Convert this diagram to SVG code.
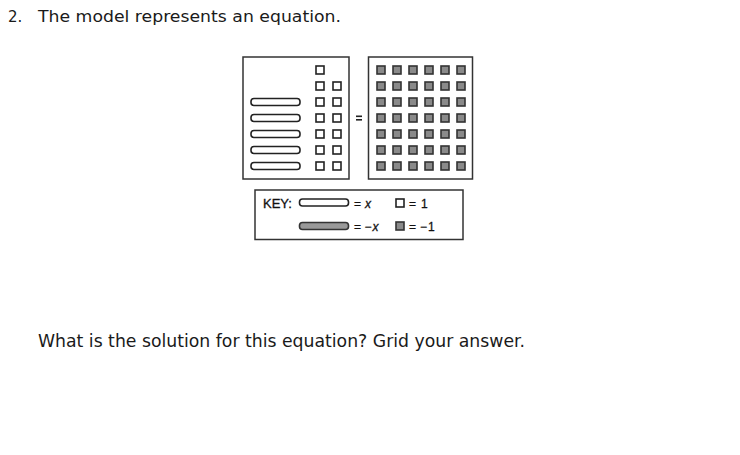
<svg xmlns="http://www.w3.org/2000/svg" width="740" height="455" viewBox="0 0 740 455">
<defs>
<style>
.txt{font-family:"DejaVu Sans",Verdana,sans-serif;fill:#1a1a1a}
.k{font-family:"Liberation Sans",Arial,sans-serif;fill:#111;stroke:#111;stroke-width:0.3}
.frame{fill:#fff;stroke:#333;stroke-width:1.5}
.one{fill:#fff;stroke:#222;stroke-width:1.6}
.neg{fill:#8a8a8a;stroke:#333;stroke-width:1.6}
.bar{fill:#fff;stroke:#222;stroke-width:1.6}
.nbar{fill:#999;stroke:#333;stroke-width:1.6}
</style>
<rect id="u1" class="one" x="-4" y="-4" width="8" height="8"/>
<rect id="n1" class="neg" x="-4" y="-4" width="8" height="8"/>
<rect id="ux" class="bar" x="0" y="-3.5" width="49" height="7" rx="3"/>
</defs>
<rect width="740" height="455" fill="#fff"/>
<text class="txt" x="8" y="22" font-size="15">2.</text>
<text class="txt" x="38" y="22" font-size="15" textLength="303" lengthAdjust="spacingAndGlyphs">The model represents an equation.</text>

<g id="left-pan">
<rect class="frame" x="243" y="57" width="106" height="122"/>
<use href="#u1" x="320" y="70"/>
<use href="#u1" x="320" y="86"/><use href="#u1" x="337" y="86"/>
<use href="#u1" x="320" y="102"/><use href="#u1" x="337" y="102"/>
<use href="#u1" x="320" y="118"/><use href="#u1" x="337" y="118"/>
<use href="#u1" x="320" y="134"/><use href="#u1" x="337" y="134"/>
<use href="#u1" x="320" y="150"/><use href="#u1" x="337" y="150"/>
<use href="#u1" x="320" y="166"/><use href="#u1" x="337" y="166"/>
<use href="#ux" x="251" y="102"/>
<use href="#ux" x="251" y="118"/>
<use href="#ux" x="251" y="134"/>
<use href="#ux" x="251" y="150"/>
<use href="#ux" x="251" y="166"/>
</g>

<g id="equals">
<rect x="356" y="115.5" width="6" height="1.6" fill="#222"/>
<rect x="356" y="119" width="6" height="1.6" fill="#222"/>
</g>

<g id="right-pan">
<rect class="frame" x="368.5" y="57" width="104" height="122"/>
<g>
<use href="#n1" x="381" y="70"/><use href="#n1" x="397" y="70"/><use href="#n1" x="413" y="70"/><use href="#n1" x="429" y="70"/><use href="#n1" x="445" y="70"/><use href="#n1" x="461" y="70"/>
<use href="#n1" x="381" y="86"/><use href="#n1" x="397" y="86"/><use href="#n1" x="413" y="86"/><use href="#n1" x="429" y="86"/><use href="#n1" x="445" y="86"/><use href="#n1" x="461" y="86"/>
<use href="#n1" x="381" y="102"/><use href="#n1" x="397" y="102"/><use href="#n1" x="413" y="102"/><use href="#n1" x="429" y="102"/><use href="#n1" x="445" y="102"/><use href="#n1" x="461" y="102"/>
<use href="#n1" x="381" y="118"/><use href="#n1" x="397" y="118"/><use href="#n1" x="413" y="118"/><use href="#n1" x="429" y="118"/><use href="#n1" x="445" y="118"/><use href="#n1" x="461" y="118"/>
<use href="#n1" x="381" y="134"/><use href="#n1" x="397" y="134"/><use href="#n1" x="413" y="134"/><use href="#n1" x="429" y="134"/><use href="#n1" x="445" y="134"/><use href="#n1" x="461" y="134"/>
<use href="#n1" x="381" y="150"/><use href="#n1" x="397" y="150"/><use href="#n1" x="413" y="150"/><use href="#n1" x="429" y="150"/><use href="#n1" x="445" y="150"/><use href="#n1" x="461" y="150"/>
<use href="#n1" x="381" y="166"/><use href="#n1" x="397" y="166"/><use href="#n1" x="413" y="166"/><use href="#n1" x="429" y="166"/><use href="#n1" x="445" y="166"/><use href="#n1" x="461" y="166"/>
</g>
</g>

<g id="key">
<rect class="frame" x="255" y="190" width="208" height="49.5"/>
<text class="k" x="263" y="207.5" font-size="13">KEY:</text>
<rect class="bar" x="299.5" y="199" width="49" height="7" rx="3"/>
<text class="k" x="354" y="207.5" font-size="12">=<tspan x="365" font-style="italic">x</tspan></text>
<rect class="one" x="396" y="199" width="8" height="8"/>
<text class="k" x="409" y="207.5" font-size="12">=<tspan x="421">1</tspan></text>
<rect class="nbar" x="299.5" y="222.5" width="49" height="7" rx="3"/>
<text class="k" x="354" y="231" font-size="12">=<tspan x="364.5">−</tspan><tspan x="372.5" font-style="italic">x</tspan></text>
<rect class="neg" x="396" y="222" width="8" height="8"/>
<text class="k" x="409" y="231" font-size="12">=<tspan x="420">−</tspan><tspan x="428">1</tspan></text>
</g>

<text class="txt" x="38" y="347" font-size="17" textLength="487" lengthAdjust="spacingAndGlyphs">What is the solution for this equation? Grid your answer.</text>
</svg>
